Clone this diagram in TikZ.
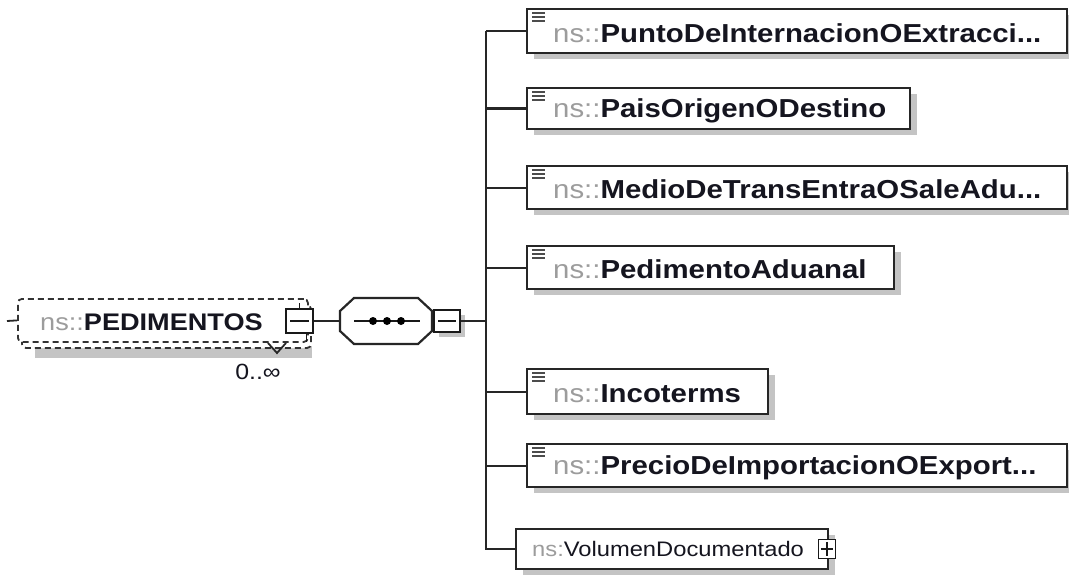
\documentclass[tikz,border=0pt]{standalone}
\usepackage{fontspec}
\usetikzlibrary{shadows}
\newfontfamily\labfont[FakeStretch=1.13]{Liberation Sans}
\definecolor{nsgray}{HTML}{9C9C9C}
\definecolor{namecol}{HTML}{15151F}
\definecolor{shadowgray}{HTML}{C4C4C4}
\newcommand\nsn[1]{{\color{nsgray}\fontseries{m}\selectfont ns::}{\bfseries\color{namecol}#1}}
\begin{document}
\begin{tikzpicture}[x=1pt,y=-1pt,
  elbox/.style={draw=black!85,line width=2.2pt,fill=white,rectangle,anchor=north west,inner sep=0pt,
    drop shadow={shadow xshift=7pt,shadow yshift=-6pt,fill=shadowgray,opacity=1}},
  lbl/.style={anchor=west,inner sep=0pt,font=\labfont\fontsize{26}{28}\selectfont},
  conn/.style={draw=black!85,line width=2.2pt},
  iconline/.style={draw=black!70,line width=1.6pt},
  btn/.style={draw=black!90,line width=1.8pt,fill=white,rectangle,inner sep=0pt}]
\useasboundingbox (0,0) rectangle (1069,578);
\fill[white] (0,0) rectangle (1069,578);
\coordinate (bus) at (486,0);

% ---- root element PEDIMENTOS
\fill[shadowgray] (35,346) rectangle (312,358);
\draw[black!80,line width=1.8pt,dash pattern=on 6pt off 4pt,rounded corners=4pt,fill=white] (22,305) rectangle (311,348);
\node[draw=black!80,line width=1.8pt,dash pattern=on 6pt off 4pt,rounded corners=4pt,fill=white,rectangle,
  minimum width=290pt,minimum height=43pt,anchor=north west,inner sep=0pt] (root) at (17,298) {};
\node[lbl,font=\labfont\fontsize{24}{26}\selectfont] (rootlbl) at (40,322) {\nsn{PEDIMENTOS}};
\coordinate (stub) at (7,321);
\draw[conn,line width=1.8pt] (stub) -- (root.west);
\node[btn,minimum width=27pt,minimum height=24pt] (pm) at (299.5,321) {};
\draw[black!90,line width=1.8pt] ([xshift=5pt]pm.west) -- ([xshift=-5pt]pm.east);
\draw[black!90,line width=1.8pt] (pm.north) -- ++(0,-5);
\draw[black!90,line width=1.8pt] ([xshift=7pt]pm.south) -- ++(0,8);
\coordinate (vl) at (268,343);
\coordinate (vm) at (277,353);
\coordinate (vr) at (286,343);
\draw[black!85,line width=1.8pt] (vl) -- (vm) -- (vr);
\node[font=\labfont\fontsize{22}{24}\selectfont,text=namecol,inner sep=0pt] (occ) at (258,372) {0..∞};

% ---- sequence compositor
\node[rectangle,minimum width=92pt,minimum height=46pt,inner sep=0pt] (seq) at (386,321) {};
\draw[black!85,line width=2.2pt,fill=white] (354,298) -- (418,298) -- (432,311) -- (432,331) -- (418,344)
  -- (354,344) -- (340,331) -- (340,311) -- cycle;
\coordinate (sql) at (354,321);
\coordinate (sqr) at (420,321);
\draw[black!90,line width=1.8pt] (sql) -- (sqr);
\foreach \dx/\nm in {373/da,387/db,401/dc}{\node[circle,fill=black,inner sep=0pt,minimum size=8pt] (\nm) at (\dx,321) {};}
\node[btn,minimum width=26pt,minimum height=22pt,drop shadow={shadow xshift=5pt,shadow yshift=-5pt,fill=shadowgray,opacity=1}] (sm) at (447,321) {};
\draw[black!90,line width=1.8pt] ([xshift=5pt]sm.west) -- ([xshift=-5pt]sm.east);
\draw[conn,line width=1.8pt] (pm.east) -- (seq.west);
\draw[conn,line width=1.8pt] (seq.east) -- (sm.west);
\draw[conn] (sm.east) -- (sm.east -| bus);

% ---- children
\node[elbox,minimum width=540pt,minimum height=44pt] (b1) at (526,8) {};
\node[elbox,minimum width=383pt,minimum height=41pt] (b2) at (526,87) {};
\node[elbox,minimum width=540pt,minimum height=43pt] (b3) at (526,165) {};
\node[elbox,minimum width=367pt,minimum height=43pt] (b4) at (526,245) {};
\node[elbox,minimum width=241pt,minimum height=45pt] (b5) at (526,368) {};
\node[elbox,minimum width=540pt,minimum height=43pt] (b6) at (526,443) {};
\node[elbox,minimum width=312pt,minimum height=40pt] (b7) at (515,528) {};

\foreach \b in {b1,b2,b3,b4,b5,b6}{
  \draw[iconline] ([xshift=6pt,yshift=-5pt]\b.north west) -- ++(13,0);
  \draw[iconline] ([xshift=6pt,yshift=-9pt]\b.north west) -- ++(13,0);
  \draw[iconline] ([xshift=6pt,yshift=-13pt]\b.north west) -- ++(13,0);
}

\node[lbl] (t1) at ([xshift=27pt,yshift=-2pt]b1.west) {\nsn{PuntoDeInternacionOExtracci...}};
\node[lbl] (t2) at ([xshift=27pt,yshift=-2pt]b2.west) {\nsn{PaisOrigenODestino}};
\node[lbl] (t3) at ([xshift=27pt,yshift=-2pt]b3.west) {\nsn{MedioDeTransEntraOSaleAdu...}};
\node[lbl] (t4) at ([xshift=27pt,yshift=-2pt]b4.west) {\nsn{PedimentoAduanal}};
\node[lbl] (t5) at ([xshift=27pt,yshift=-2pt]b5.west) {\nsn{Incoterms}};
\node[lbl] (t6) at ([xshift=27pt,yshift=-2pt]b6.west) {\nsn{PrecioDeImportacionOExport...}};
\node[lbl,font=\labfont\fontsize{21}{22}\selectfont] (t7) at ([xshift=17pt]b7.west) {{\color{nsgray}ns:}{\color{namecol}VolumenDocumentado}};
\node[btn,minimum width=17pt,minimum height=19pt,line width=1.4pt] (vp) at (827,549) {};
\draw[black!90,line width=1.4pt] ([xshift=3pt]vp.west) -- ([xshift=-3pt]vp.east);
\draw[black!90,line width=1.4pt] ([yshift=-3pt]vp.north) -- ([yshift=3pt]vp.south);

% ---- bus and connectors
\draw[conn] (bus |- b1.west) -- (bus |- b7.west) -- (b7.west);
\foreach \b in {b1,b2,b3,b4,b5,b6}{\draw[conn] (bus |- \b.west) -- (\b.west);}
\end{tikzpicture}
\end{document}
